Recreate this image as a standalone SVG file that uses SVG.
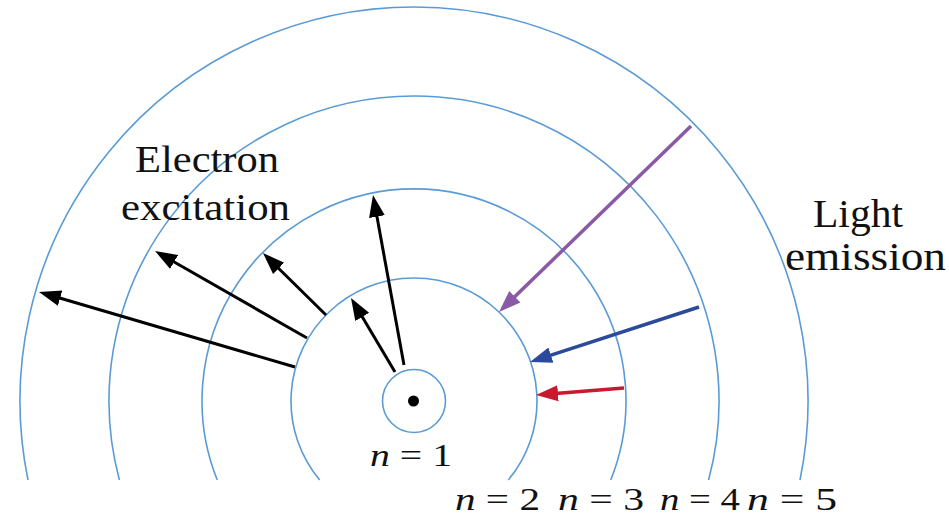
<svg xmlns="http://www.w3.org/2000/svg" width="949" height="517" viewBox="0 0 949 517">
<style>
.orbit{fill:none;stroke:#5b9bd5;stroke-width:1.6}
.t{font-family:'Times New Roman','Liberation Serif',serif;fill:#111}
.ex{stroke:#000;stroke-width:3;fill:none}
</style>
<defs>
<marker id="hk" viewBox="0 -10 24 20" markerWidth="24" markerHeight="20" refX="12" refY="0" orient="auto" markerUnits="userSpaceOnUse"><path d="M0,-8 L22,0 L0,8 z" fill="#000"/></marker>
<marker id="hp" viewBox="0 -10 24 20" markerWidth="24" markerHeight="20" refX="12" refY="0" orient="auto" markerUnits="userSpaceOnUse"><path d="M0,-8 L22,0 L0,8 z" fill="#8a5aa6"/></marker>
<marker id="hb" viewBox="0 -10 24 20" markerWidth="24" markerHeight="20" refX="12" refY="0" orient="auto" markerUnits="userSpaceOnUse"><path d="M0,-8 L22,0 L0,8 z" fill="#2b4a9c"/></marker>
<marker id="hr" viewBox="0 -10 24 20" markerWidth="24" markerHeight="20" refX="12" refY="0" orient="auto" markerUnits="userSpaceOnUse"><path d="M0,-8 L22,0 L0,8 z" fill="#c8192e"/></marker>
</defs>
<rect width="949" height="517" fill="#fff"/>
<g id="n1">
<circle class="orbit" cx="414" cy="401" r="31.5"/>
<circle cx="413.5" cy="401" r="5.5" fill="#000"/>
<text class="t" x="370" y="466" font-size="31" textLength="82" lengthAdjust="spacingAndGlyphs"><tspan font-style="italic">n</tspan> = 1</text>
</g>
<g id="n2">
<path class="orbit" d="M319.7,480 A123,123 0 1 1 508.3,480"/>
<text class="t" x="455" y="510" font-size="31" textLength="85" lengthAdjust="spacingAndGlyphs"><tspan font-style="italic">n</tspan> = 2</text>
</g>
<g id="n3">
<path class="orbit" d="M217.3,480 A212,212 0 1 1 610.7,480"/>
<text class="t" x="558" y="510" font-size="31" textLength="86" lengthAdjust="spacingAndGlyphs"><tspan font-style="italic">n</tspan> = 3</text>
</g>
<g id="n4">
<path class="orbit" d="M119.4,480 A305,305 0 1 1 708.6,480"/>
<text class="t" x="660" y="510" font-size="31" textLength="80" lengthAdjust="spacingAndGlyphs"><tspan font-style="italic">n</tspan> = 4</text>
</g>
<g id="n5">
<path class="orbit" d="M28,480 A394,394 0 1 1 800,480"/>
<text class="t" x="747" y="510" font-size="31" textLength="90" lengthAdjust="spacingAndGlyphs"><tspan font-style="italic">n</tspan> = 5</text>
</g>
<g id="excitation-label">
<text class="t" x="135" y="172" font-size="38" textLength="144" lengthAdjust="spacingAndGlyphs">Electron</text>
<text class="t" x="121" y="220" font-size="38" textLength="169" lengthAdjust="spacingAndGlyphs">excitation</text>
</g>
<g id="emission-label">
<text class="t" x="813" y="227" font-size="40" textLength="90" lengthAdjust="spacingAndGlyphs">Light</text>
<text class="t" x="785" y="270" font-size="40" textLength="161" lengthAdjust="spacingAndGlyphs">emission</text>
</g>
<g id="connectors">
<line class="ex" x1="295" y1="367" x2="48.6" y2="294.8" marker-end="url(#hk)"/>
<line class="ex" x1="307" y1="338" x2="163.7" y2="256" marker-end="url(#hk)"/>
<line class="ex" x1="326" y1="315" x2="270.1" y2="260" marker-end="url(#hk)"/>
<line class="ex" x1="404" y1="365" x2="374.8" y2="204.8" marker-end="url(#hk)"/>
<line class="ex" x1="395" y1="372" x2="356.1" y2="306.6" marker-end="url(#hk)"/>
<line x1="691" y1="126" x2="506.2" y2="305" stroke="#8a5aa6" stroke-width="3.5" marker-end="url(#hp)"/>
<line x1="699" y1="307" x2="539.5" y2="358.9" stroke="#2b4a9c" stroke-width="3.5" marker-end="url(#hb)"/>
<line x1="624" y1="388" x2="546" y2="394.2" stroke="#c8192e" stroke-width="3.5" marker-end="url(#hr)"/>
</g>
</svg>
